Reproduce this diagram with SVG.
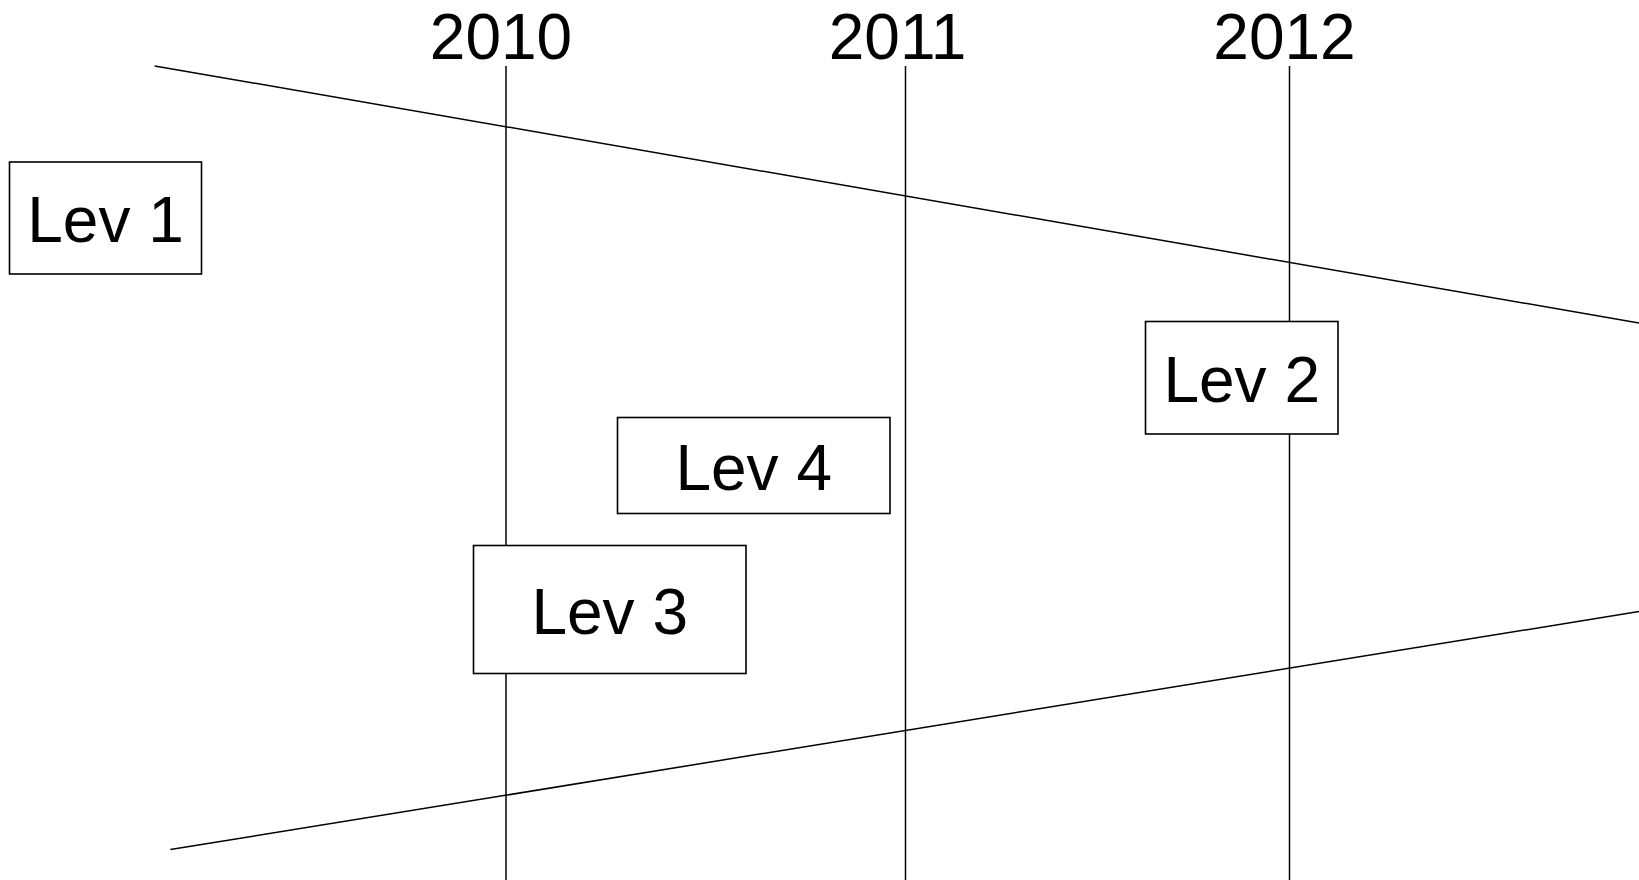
<svg xmlns="http://www.w3.org/2000/svg" width="1639" height="880" viewBox="0 0 1639 880">
<style>
.ln{stroke:#000;stroke-width:1.5;fill:none}
.box{fill:#fff;stroke:#000;stroke-width:1.6}
.t{font-family:"Liberation Sans",Arial,sans-serif;font-size:64px;fill:#000;text-anchor:middle}
</style>
<rect width="1639" height="880" fill="#fff"/>
<g id="years">
<text class="t" x="501" y="58.5">2010</text>
<text class="t" x="897.5" y="58.5">2011</text>
<text class="t" x="1284.5" y="58.5">2012</text>
</g>
<g id="connectors">
<line class="ln" x1="506" y1="66" x2="506" y2="880"/>
<line class="ln" x1="905.5" y1="66" x2="905.5" y2="880"/>
<line class="ln" x1="1289.5" y1="66" x2="1289.5" y2="880"/>
<line class="ln" x1="154.7" y1="65.9" x2="1639" y2="323"/>
<line class="ln" x1="170.4" y1="849.6" x2="1639" y2="611.5"/>
</g>
<g id="lev1">
<rect class="box" x="9.5" y="162" width="192" height="112"/>
<text class="t" x="105.5" y="242.3">Lev 1</text>
</g>
<g id="lev2">
<rect class="box" x="1145.5" y="321.5" width="192.5" height="112.5"/>
<text class="t" x="1241.7" y="402.3">Lev 2</text>
</g>
<g id="lev4">
<rect class="box" x="617.5" y="417.5" width="272.5" height="96"/>
<text class="t" x="753.7" y="490">Lev 4</text>
</g>
<g id="lev3">
<rect class="box" x="473.5" y="545.5" width="272.5" height="128"/>
<text class="t" x="609.7" y="634.3">Lev 3</text>
</g>
</svg>
